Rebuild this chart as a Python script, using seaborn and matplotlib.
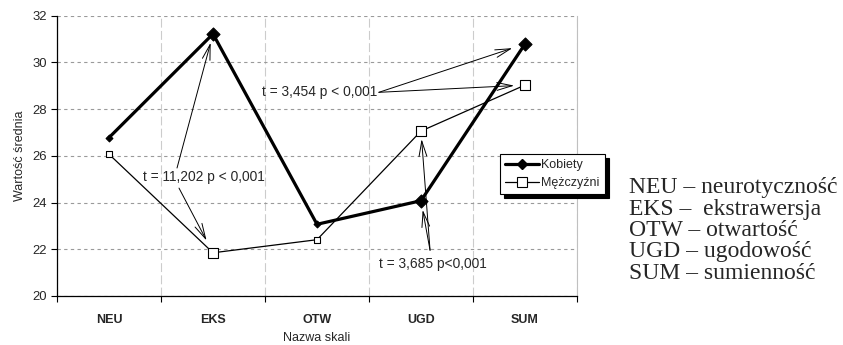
import numpy as np
import pandas as pd
import matplotlib
matplotlib.use("Agg")
import matplotlib.pyplot as plt
import seaborn as sns
from matplotlib import font_manager
from matplotlib.lines import Line2D
from matplotlib.ticker import FixedLocator

# --- dane ---
skale = ["NEU", "EKS", "OTW", "UGD", "SUM"]
kobiety = [26.78, 31.22, 23.07, 24.08, 30.79]
mezczyzni = [26.07, 21.85, 22.41, 27.06, 29.03]
wyroznione = ["EKS", "UGD", "SUM"]          # skale z istotną różnicą
opisy = ["NEU – neurotyczność", "EKS –  ekstrawersja", "OTW – otwartość",
         "UGD – ugodowość", "SUM – sumienność"]
testy = ["t = 11,202 p < 0,001", "t = 3,454 p < 0,001", "t = 3,685 p<0,001"]

sns.set_theme(style="white")
dostepne = {f.name for f in font_manager.fontManager.ttflist}
WASKI = "Liberation Sans Narrow" in dostepne
SANS = "Liberation Sans Narrow" if WASKI else "Liberation Sans"
k = 1.0 if WASKI else 0.86
plt.rcParams["font.family"] = [SANS, "DejaVu Sans"]

df = pd.DataFrame({
    "Nazwa skali": skale * 2,
    "Płeć": ["Kobiety"] * len(skale) + ["Mężczyźni"] * len(skale),
    "Wartość średnia": kobiety + mezczyzni,
})
df["poz"] = df["Nazwa skali"].map({s: i for i, s in enumerate(skale)})
df["wyr"] = df["Nazwa skali"].isin(wyroznione)

fig = plt.figure(figsize=(8.43, 3.45), dpi=100)
ax = fig.add_axes([57 / 843, 1 - 296 / 345, 520 / 843, 280.3 / 345])

# linie
sns.lineplot(data=df, x="poz", y="Wartość średnia", hue="Płeć", size="Płeć",
             sizes={"Kobiety": 2.3, "Mężczyźni": 0.9},
             palette={"Kobiety": "black", "Mężczyźni": "black"},
             sort=False, legend=False, ax=ax, zorder=2)

# znaczniki
styl = {
    "Kobiety": dict(marker="D", color="black", edgecolor="black"),
    "Mężczyźni": dict(marker="s", color="white", edgecolor="black"),
}
rozmiar = {"Kobiety": (12, 44), "Mężczyźni": (20, 62)}
for plec, st in styl.items():
    for wyr, s in zip([False, True], rozmiar[plec]):
        sub = df[(df["Płeć"] == plec) & (df["wyr"] == wyr)]
        sns.scatterplot(data=sub, x="poz", y="Wartość średnia", s=s,
                        linewidth=0.8, legend=False, ax=ax, zorder=3, **st)

# osie
ax.set_xlim(-0.5, len(skale) - 0.5)
ax.set_ylim(20, 32)
ax.set_xticks(range(len(skale)))
ax.set_xticklabels(skale, fontweight="bold", fontsize=10.5 * k)
ax.xaxis.set_minor_locator(FixedLocator(np.arange(-0.5, len(skale), 1.0)))
ax.tick_params(axis="x", which="major", length=0, pad=13)
ax.tick_params(axis="x", which="minor", length=4, width=0.8, color="black",
               direction="out", bottom=True)
ax.set_yticks(np.arange(20, 33, 2))
ax.tick_params(axis="y", length=4, width=0.8, color="black", direction="out",
               left=True, pad=3, labelsize=11 * k)
ax.set_xlabel("Nazwa skali", fontsize=10.5 * k, labelpad=4)
ax.set_ylabel("Wartość średnia", fontsize=10.5 * k, labelpad=5)

ax.yaxis.grid(True, color="#9a9a9a", lw=0.8, ls=(0, (3, 3)))
ax.xaxis.grid(True, which="minor", color="#cccccc", lw=0.8, ls=(0, (8, 3)))
ax.xaxis.grid(False, which="major")
ax.set_axisbelow(True)
ax.spines["top"].set_visible(False)
ax.spines["right"].set_color("#c0c0c0")
ax.spines["right"].set_linewidth(0.8)
for s in ("left", "bottom"):
    ax.spines[s].set_color("black")
    ax.spines[s].set_linewidth(0.9)

# wyniki testów t
grot = dict(arrowstyle="->,head_length=1.1,head_width=0.28", lw=0.7,
            color="black", shrinkA=0, mutation_scale=10)
idx = {s: i for i, s in enumerate(skale)}

def strzalka(start, skala, wartosc, odstep):
    ax.annotate("", xy=(idx[skala], wartosc), xytext=start,
                arrowprops=dict(grot, shrinkB=odstep), zorder=4)

ax.text(0.915, 25.09, testy[0], ha="center", va="center", fontsize=11.5 * k)
strzalka((0.654, 25.48), "EKS", kobiety[1], 6.5)
strzalka((0.673, 24.62), "EKS", mezczyzni[1], 10)

ax.text(2.03, 28.72, testy[1], ha="center", va="center", fontsize=11.5 * k)
strzalka((2.595, 28.72), "SUM", kobiety[4], 9.6)
strzalka((2.595, 28.72), "SUM", mezczyzni[4], 7.8)

ax.text(3.115, 21.37, testy[2], ha="center", va="center", fontsize=11.5 * k)
strzalka((3.087, 21.96), "UGD", mezczyzni[3], 5.8)
strzalka((3.087, 21.96), "UGD", kobiety[3], 6.7)

# legenda
uchwyty = [
    Line2D([], [], color="black", lw=2.3, marker="D", ms=5.5,
           mfc="black", mec="black"),
    Line2D([], [], color="black", lw=0.9, marker="s", ms=6.5,
           mfc="white", mec="black", mew=0.8),
]
leg = ax.legend(uchwyty, ["Kobiety", "Mężczyźni"], loc="upper left",
                bbox_to_anchor=((500 - 57) / 520, (296 - 154) / 280.3),
                borderaxespad=0, fancybox=False, frameon=True,
                shadow={"color": "black", "alpha": 1.0, "ox": 3, "oy": -3},
                edgecolor="black", framealpha=1, fontsize=10.5 * k,
                handlelength=2.7, handletextpad=0.2, borderpad=0.4,
                labelspacing=0.5)
leg.get_frame().set_linewidth(0.8)
leg.set_zorder(5)

# objaśnienia skrótów
for i, opis in enumerate(opisy):
    fig.text(629 / 843, 1 - (188 + 21.3 * i) / 345, opis, ha="left",
             va="center", fontsize=17, family=["Liberation Serif", "DejaVu Serif"])

fig.savefig("out.png", dpi=100)
